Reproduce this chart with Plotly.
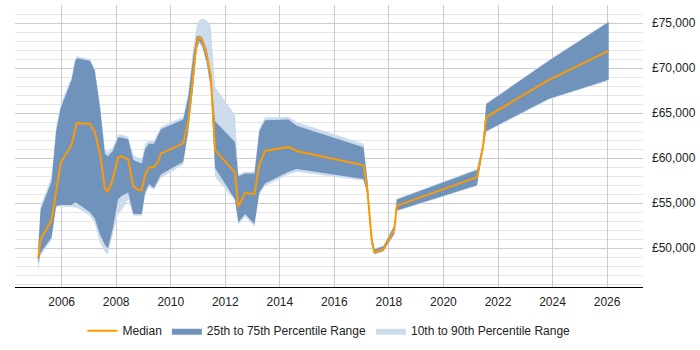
import plotly.graph_objects as go

# ---- data ----
median_dates = [
    "2005-02-20", "2005-03-25", "2005-08-18", "2005-12-20", "2006-05-15", "2006-07-20",
    "2007-01-15", "2007-03-21", "2007-05-30", "2007-08-03", "2007-09-09", "2007-10-30",
    "2008-01-29", "2008-03-14", "2008-06-10", "2008-08-18", "2008-10-15", "2008-12-09",
    "2009-01-22", "2009-03-14", "2009-05-22", "2009-07-20", "2009-08-22", "2010-06-17",
    "2010-08-25", "2010-10-30", "2010-12-13", "2011-01-18", "2011-02-27", "2011-04-27",
    "2011-06-21", "2011-08-18", "2012-05-11", "2012-06-24", "2012-09-23", "2013-01-26",
    "2013-04-01", "2013-06-17", "2014-04-27", "2014-08-14", "2017-01-26", "2017-03-18",
    "2017-05-15", "2017-06-21", "2017-10-19", "2018-03-14", "2018-04-16", "2021-03-25",
    "2021-06-13", "2021-07-27", "2023-11-14", "2026-01-22",
]
median_values = [
    48900, 51000, 53100, 59500, 61500, 63900,
    63800, 62900, 60500, 56600, 56300, 57200,
    60100, 60200, 59850, 56900, 56500, 56450,
    58150, 58950, 59000, 59700, 60500, 61650,
    64100, 69200, 72800, 73450, 73100, 71550,
    69100, 60900, 58400, 54600, 56150, 56000,
    59250, 60800, 61250, 60800, 59200, 56500,
    50900, 49550, 49900, 52050, 54700, 57900,
    61200, 64550, 68700, 71900,
]

band_dates = [
    "2005-02-20", "2005-03-25", "2005-08-18", "2005-10-19", "2005-12-20", "2006-05-15",
    "2006-07-01", "2006-07-27", "2007-01-15", "2007-03-21", "2007-05-30", "2007-08-03",
    "2007-09-12", "2007-11-17", "2008-01-26", "2008-03-14", "2008-06-10", "2008-08-18",
    "2008-12-09", "2009-01-22", "2009-03-14", "2009-05-22", "2009-08-22", "2010-06-17",
    "2010-08-22", "2010-10-30", "2010-12-13", "2011-01-18", "2011-02-27", "2011-04-27",
    "2011-06-21", "2011-08-18", "2012-05-11", "2012-06-24", "2012-09-23", "2013-01-26",
    "2013-04-01", "2013-06-17", "2014-04-27", "2014-08-14", "2017-01-26", "2017-03-18",
    "2017-05-15", "2017-06-21", "2017-10-19", "2018-03-14", "2018-04-16", "2021-03-25",
    "2021-06-13", "2021-07-27", "2023-11-14", "2026-01-22",
]
p25_values = [
    48300, 49500, 51200, 54700, 54800, 54800,
    55100, 55000, 54000, 53300, 51500, 50400,
    50000, 52200, 55400, 55800, 56200, 53800,
    53800, 56200, 57100, 56700, 58200, 59600,
    63000, 68100, 72100, 73000, 72500, 70700,
    67900, 58900, 55400, 52900, 53800, 52700,
    56200, 57200, 58500, 58800, 57700, 56000,
    50400, 49400, 49700, 51600, 54200, 57000,
    60900, 63000, 66600, 68700,
]
p75_values = [
    49900, 54300, 57400, 63000, 65600, 68700,
    70800, 71100, 70800, 69700, 65600, 60500,
    60200, 60800, 62300, 62300, 62100, 59800,
    59400, 61000, 61600, 61600, 63200, 64300,
    66700, 71400, 73500, 73600, 73400, 72100,
    69200, 64100, 61800, 58000, 58300, 58300,
    63000, 64200, 64300, 63600, 61200, 57600,
    51500, 49900, 50200, 52500, 55400, 58700,
    61600, 66000, 70800, 75100,
]
p10_values = [
    47500, 49200, 50900, 54500, 54600, 54600,
    54500, 54500, 53600, 52700, 50600, 49600,
    49300, 51400, 53800, 54200, 55400, 53600,
    53600, 55800, 56800, 56500, 57800, 59300,
    62700, 67800, 71800, 72700, 72200, 70400,
    67600, 57900, 55300, 52600, 53500, 52400,
    55900, 56900, 58200, 58500, 57500, 55900,
    50300, 49300, 49600, 51500, 54100, 56900,
    60800, 62900, 66500, 68600,
]
p90_values = [
    50100, 54700, 57900, 63500, 66000, 69000,
    71000, 71300, 71000, 69900, 66000, 61000,
    60700, 61200, 62600, 62600, 62400, 60300,
    59900, 61600, 61900, 61900, 63500, 64600,
    67200, 72300, 74600, 75300, 75500, 75300,
    74700, 67900, 64800, 58200, 58500, 58500,
    63300, 64500, 64600, 64000, 61600, 57700,
    51600, 50000, 50300, 52600, 55500, 58800,
    61700, 66100, 70900, 75200,
]

y_ticks = [50000, 55000, 60000, 65000, 70000, 75000]
y_tick_labels = ["\u00a3" + f"{v:,}" for v in y_ticks]

DARK = "rgb(112,147,187)"
LIGHT = "rgb(205,220,237)"
ORANGE = "#ff9900"

fig = go.Figure()
# 10th-90th band
fig.add_trace(go.Scatter(x=band_dates, y=p10_values, mode="lines",
                         line=dict(width=0, color=LIGHT), showlegend=False, hoverinfo="skip"))
fig.add_trace(go.Scatter(x=band_dates, y=p90_values, mode="lines", fill="tonexty",
                         fillcolor=LIGHT, line=dict(width=0, color=LIGHT),
                         name="10th to 90th Percentile Range", legendrank=3))
# 25th-75th band
fig.add_trace(go.Scatter(x=band_dates, y=p25_values, mode="lines",
                         line=dict(width=0, color=DARK), showlegend=False, hoverinfo="skip"))
fig.add_trace(go.Scatter(x=band_dates, y=p75_values, mode="lines", fill="tonexty",
                         fillcolor=DARK, line=dict(width=0, color=DARK),
                         name="25th to 75th Percentile Range", legendrank=2))
# median
fig.add_trace(go.Scatter(x=median_dates, y=median_values, mode="lines",
                         line=dict(width=2, color=ORANGE), name="Median", legendrank=1))

FONT = "Liberation Sans, Arial, sans-serif"
fig.update_layout(
    width=700, height=350,
    margin=dict(l=15, r=57, t=5, b=57),
    paper_bgcolor="white", plot_bgcolor="white",
    font=dict(family=FONT, size=12, color="#222222"),
    showlegend=True,
    legend=dict(orientation="h", x=0.5, xanchor="center", y=-0.155, yanchor="middle",
                font=dict(size=12, color="#222222"), itemwidth=30, traceorder="normal"),
    xaxis=dict(
        type="date",
        range=["2004-04-16", "2027-04-27"],
        tick0="2006-01-01", dtick="M24", tickformat="%Y",
        showgrid=True, gridcolor="#cccccc", gridwidth=1,
        showline=True, linecolor="#000000", linewidth=1,
        ticks="", zeroline=False,
        ticklabelstandoff=4,
        tickfont=dict(size=12, color="#222222"),
    ),
    yaxis=dict(
        side="right",
        range=[45700, 77000],
        tickmode="array", tickvals=y_ticks, ticktext=y_tick_labels,
        showgrid=True, gridcolor="#cccccc", gridwidth=1,
        minor=dict(dtick=1000, tick0=0, showgrid=True, gridcolor="#e6e6e6", gridwidth=1),
        showline=False, zeroline=False, ticks="",
        ticklabelstandoff=8,
        tickfont=dict(size=12, color="#222222"),
    ),
)

fig.write_html("out.html")
